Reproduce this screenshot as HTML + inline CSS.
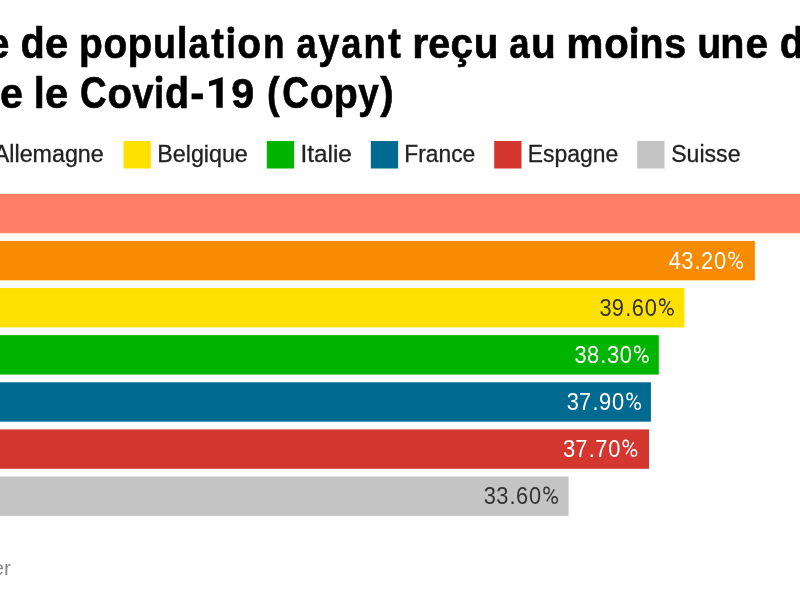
<!DOCTYPE html>
<html><head><meta charset="utf-8"><style>
html,body{margin:0;padding:0;background:#fff;width:800px;height:600px;overflow:hidden}
svg{display:block;will-change:transform;font-family:"Liberation Sans",sans-serif}
</style></head><body>
<svg width="800" height="600" viewBox="0 0 800 600">
<rect x="-10" y="193.80" width="810.00" height="39.4" fill="#ff7f66"/>
<rect x="-10" y="240.92" width="764.90" height="39.4" fill="#f98b00"/>
<rect x="-10" y="288.04" width="694.45" height="39.4" fill="#ffe100"/>
<rect x="-10" y="335.16" width="668.80" height="39.4" fill="#00b400"/>
<rect x="-10" y="382.28" width="660.90" height="39.4" fill="#006a91"/>
<rect x="-10" y="429.40" width="659.00" height="39.4" fill="#d43730"/>
<rect x="-10" y="476.52" width="578.60" height="39.4" fill="#c4c4c4"/>
<rect x="123.5" y="141" width="27.3" height="27.5" fill="#ffe100"/>
<rect x="266.8" y="141" width="27.3" height="27.5" fill="#00b400"/>
<rect x="370.8" y="141" width="27.3" height="27.5" fill="#006a91"/>
<rect x="494.2" y="141" width="27.3" height="27.5" fill="#d43730"/>
<rect x="637.2" y="141" width="27.3" height="27.5" fill="#c4c4c4"/>
<text transform="translate(-6.21,162.10) scale(0.9908,1)" font-size="23.5" font-weight="normal" fill="#222" stroke="#222" stroke-width="0.3">Allemagne</text>
<text transform="translate(157.27,162.10) scale(0.9899,1)" font-size="23.5" font-weight="normal" fill="#222" stroke="#222" stroke-width="0.3">Belgique</text>
<text transform="translate(300.48,162.10) scale(1.0348,1)" font-size="23.5" font-weight="normal" fill="#222" stroke="#222" stroke-width="0.3">Italie</text>
<text transform="translate(404.30,162.10) scale(0.9707,1)" font-size="23.5" font-weight="normal" fill="#222" stroke="#222" stroke-width="0.3">France</text>
<text transform="translate(527.79,162.10) scale(0.9756,1)" font-size="23.5" font-weight="normal" fill="#222" stroke="#222" stroke-width="0.3">Espagne</text>
<text transform="translate(671.16,162.10) scale(0.9831,1)" font-size="23.5" font-weight="normal" fill="#222" stroke="#222" stroke-width="0.3">Suisse</text>
<text transform="translate(-7.51,574.60) scale(0.9908,1)" font-size="21" font-weight="normal" fill="#888">er</text>
<text transform="translate(-12.66,58.40) scale(0.9250,1.0)" font-size="43" font-weight="bold" fill="#000" stroke="#000" stroke-width="0.6">e</text>
<text transform="translate(20.54,58.40) scale(0.9222,1.03)" font-size="43" font-weight="bold" fill="#000" stroke="#000" stroke-width="0.6">d</text>
<text transform="translate(44.98,58.40) scale(0.9729,1.0)" font-size="43" font-weight="bold" fill="#000" stroke="#000" stroke-width="0.6">e</text>
<text transform="translate(79.08,58.40) scale(0.9068,1.0)" font-size="43" font-weight="bold" fill="#000" stroke="#000" stroke-width="0.6">p</text>
<text transform="translate(103.45,58.40) scale(0.9061,1.0)" font-size="43" font-weight="bold" fill="#000" stroke="#000" stroke-width="0.6">o</text>
<text transform="translate(127.50,58.40) scale(0.9441,1.0)" font-size="43" font-weight="bold" fill="#000" stroke="#000" stroke-width="0.6">p</text>
<text transform="translate(152.90,58.40) scale(0.8756,1.0)" font-size="43" font-weight="bold" fill="#000" stroke="#000" stroke-width="0.6">u</text>
<text transform="translate(176.85,58.40) scale(0.9018,1.03)" font-size="43" font-weight="bold" fill="#000" stroke="#000" stroke-width="0.6">l</text>
<text transform="translate(188.43,58.40) scale(0.8563,1.0)" font-size="43" font-weight="bold" fill="#000" stroke="#000" stroke-width="0.6">a</text>
<text transform="translate(211.27,58.40) scale(0.8838,1.0)" font-size="43" font-weight="bold" fill="#000" stroke="#000" stroke-width="0.6">t</text>
<text transform="translate(225.61,58.40) scale(0.8745,1.0)" font-size="43" font-weight="bold" fill="#000" stroke="#000" stroke-width="0.6">ı</text>
<text transform="translate(237.15,58.40) scale(0.9081,1.0)" font-size="43" font-weight="bold" fill="#000" stroke="#000" stroke-width="0.6">o</text>
<text transform="translate(263.04,58.40) scale(0.8190,1.0)" font-size="43" font-weight="bold" fill="#000" stroke="#000" stroke-width="0.6">n</text>
<text transform="translate(296.59,58.40) scale(0.8439,1.0)" font-size="43" font-weight="bold" fill="#000" stroke="#000" stroke-width="0.6">a</text>
<text transform="translate(318.37,58.40) scale(0.8835,1.0)" font-size="43" font-weight="bold" fill="#000" stroke="#000" stroke-width="0.6">y</text>
<text transform="translate(341.19,58.40) scale(0.8459,1.0)" font-size="43" font-weight="bold" fill="#000" stroke="#000" stroke-width="0.6">a</text>
<text transform="translate(363.57,58.40) scale(0.8507,1.0)" font-size="43" font-weight="bold" fill="#000" stroke="#000" stroke-width="0.6">n</text>
<text transform="translate(388.02,58.40) scale(0.9008,1.0)" font-size="43" font-weight="bold" fill="#000" stroke="#000" stroke-width="0.6">t</text>
<text transform="translate(412.20,58.40) scale(0.9617,1.0)" font-size="43" font-weight="bold" fill="#000" stroke="#000" stroke-width="0.6">r</text>
<text transform="translate(428.14,58.40) scale(0.9186,1.0)" font-size="43" font-weight="bold" fill="#000" stroke="#000" stroke-width="0.6">e</text>
<text transform="translate(450.62,58.40) scale(0.9412,1.0)" font-size="43" font-weight="bold" fill="#000" stroke="#000" stroke-width="0.6">ç</text>
<text transform="translate(473.64,58.40) scale(0.9389,1.0)" font-size="43" font-weight="bold" fill="#000" stroke="#000" stroke-width="0.6">u</text>
<text transform="translate(509.28,58.40) scale(0.8501,1.0)" font-size="43" font-weight="bold" fill="#000" stroke="#000" stroke-width="0.6">a</text>
<text transform="translate(530.99,58.40) scale(0.9412,1.0)" font-size="43" font-weight="bold" fill="#000" stroke="#000" stroke-width="0.6">u</text>
<text transform="translate(566.27,58.40) scale(0.9740,1.0)" font-size="43" font-weight="bold" fill="#000" stroke="#000" stroke-width="0.6">m</text>
<text transform="translate(604.23,58.40) scale(0.9330,1.0)" font-size="43" font-weight="bold" fill="#000" stroke="#000" stroke-width="0.6">o</text>
<text transform="translate(628.78,58.40) scale(0.8881,1.0)" font-size="43" font-weight="bold" fill="#000" stroke="#000" stroke-width="0.6">ı</text>
<text transform="translate(639.56,58.40) scale(0.9163,1.0)" font-size="43" font-weight="bold" fill="#000" stroke="#000" stroke-width="0.6">n</text>
<text transform="translate(664.14,58.40) scale(0.9170,1.0)" font-size="43" font-weight="bold" fill="#000" stroke="#000" stroke-width="0.6">s</text>
<text transform="translate(697.23,58.40) scale(0.9140,1.0)" font-size="43" font-weight="bold" fill="#000" stroke="#000" stroke-width="0.6">u</text>
<text transform="translate(720.21,58.40) scale(0.9186,1.0)" font-size="43" font-weight="bold" fill="#000" stroke="#000" stroke-width="0.6">n</text>
<text transform="translate(745.61,58.40) scale(0.9457,1.0)" font-size="43" font-weight="bold" fill="#000" stroke="#000" stroke-width="0.6">e</text>
<text transform="translate(779.83,58.40) scale(0.9250,1.03)" font-size="43" font-weight="bold" fill="#000" stroke="#000" stroke-width="0.6">d</text>
<text transform="translate(-0.00,107.60) scale(0.9615,1.0)" font-size="43" font-weight="bold" fill="#000" stroke="#000" stroke-width="0.6">e</text>
<text transform="translate(33.80,107.60) scale(0.9223,1.03)" font-size="43" font-weight="bold" fill="#000" stroke="#000" stroke-width="0.6">l</text>
<text transform="translate(44.98,107.60) scale(0.9729,1.0)" font-size="43" font-weight="bold" fill="#000" stroke="#000" stroke-width="0.6">e</text>
<text transform="translate(80.11,107.60) scale(0.8562,1.03)" font-size="43" font-weight="bold" fill="#000" stroke="#000" stroke-width="0.6">C</text>
<text transform="translate(107.53,107.60) scale(0.9330,1.0)" font-size="43" font-weight="bold" fill="#000" stroke="#000" stroke-width="0.6">o</text>
<text transform="translate(132.17,107.60) scale(0.8916,1.0)" font-size="43" font-weight="bold" fill="#000" stroke="#000" stroke-width="0.6">v</text>
<text transform="translate(153.98,107.60) scale(0.8471,1.0)" font-size="43" font-weight="bold" fill="#000" stroke="#000" stroke-width="0.6">ı</text>
<text transform="translate(165.04,107.60) scale(0.9178,1.03)" font-size="43" font-weight="bold" fill="#000" stroke="#000" stroke-width="0.6">d</text>
<text transform="translate(190.22,107.60) scale(0.9857,1.0)" font-size="43" font-weight="bold" fill="#000" stroke="#000" stroke-width="0.6">-</text>
<text transform="translate(231.25,107.60) scale(0.9615,1.0)" font-size="43" font-weight="bold" fill="#000" stroke="#000" stroke-width="0.6">9</text>
<text transform="translate(266.99,107.60) scale(0.8791,1.03)" font-size="43" font-weight="bold" fill="#000" stroke="#000" stroke-width="0.6">(</text>
<text transform="translate(282.20,107.60) scale(0.8613,1.03)" font-size="43" font-weight="bold" fill="#000" stroke="#000" stroke-width="0.6">C</text>
<text transform="translate(309.65,107.60) scale(0.9081,1.0)" font-size="43" font-weight="bold" fill="#000" stroke="#000" stroke-width="0.6">o</text>
<text transform="translate(333.81,107.60) scale(0.9178,1.0)" font-size="43" font-weight="bold" fill="#000" stroke="#000" stroke-width="0.6">p</text>
<text transform="translate(358.36,107.60) scale(0.8593,1.0)" font-size="43" font-weight="bold" fill="#000" stroke="#000" stroke-width="0.6">y</text>
<text transform="translate(380.28,107.60) scale(0.9352,1.03)" font-size="43" font-weight="bold" fill="#000" stroke="#000" stroke-width="0.6">)</text>
<circle cx="230.85" cy="29.9" r="3.4"/><circle cx="634.15" cy="30.0" r="3.4"/><circle cx="159.05" cy="79.0" r="3.4"/>
<path d="M209,81.3 L222.7,76.9 L222.7,107.8 L216.3,107.8 L216.3,84.2 L209,86.6 Z" fill="#000"/>
<text transform="translate(714.00,269.00) scale(0.9300,1)" font-size="23.5" fill="#fff">0</text>
<text transform="translate(701.05,269.00) scale(0.9300,1)" font-size="23.5" fill="#fff">2</text>
<text transform="translate(694.60,269.00) scale(0.9300,1)" font-size="23.5" fill="#fff">.</text>
<text transform="translate(681.22,269.00) scale(0.9300,1)" font-size="23.5" fill="#fff">3</text>
<text transform="translate(668.72,269.00) scale(0.9300,1)" font-size="23.5" fill="#fff">4</text>
<g transform="translate(743.25,269.0)" fill="none" stroke="#fff"><ellipse cx="-11.7" cy="-13.55" rx="2.68" ry="3.22" stroke-width="1.4"/><ellipse cx="-3.55" cy="-4.05" rx="2.72" ry="3.22" stroke-width="1.4"/><line x1="-3.9" y1="-14.7" x2="-11.5" y2="-2.6" stroke-width="1.3"/></g>
<text transform="translate(644.75,316.00) scale(0.9300,1)" font-size="23.5" fill="#333">0</text>
<text transform="translate(631.80,316.00) scale(0.9300,1)" font-size="23.5" fill="#333">6</text>
<text transform="translate(625.35,316.00) scale(0.9300,1)" font-size="23.5" fill="#333">.</text>
<text transform="translate(611.80,316.00) scale(0.9300,1)" font-size="23.5" fill="#333">9</text>
<text transform="translate(599.47,316.00) scale(0.9300,1)" font-size="23.5" fill="#333">3</text>
<g transform="translate(674.0,315.75)" fill="none" stroke="#333"><ellipse cx="-11.7" cy="-13.55" rx="2.68" ry="3.22" stroke-width="1.4"/><ellipse cx="-3.55" cy="-4.05" rx="2.72" ry="3.22" stroke-width="1.4"/><line x1="-3.9" y1="-14.7" x2="-11.5" y2="-2.6" stroke-width="1.3"/></g>
<text transform="translate(619.75,363.00) scale(0.9300,1)" font-size="23.5" fill="#fff">0</text>
<text transform="translate(606.97,363.00) scale(0.9300,1)" font-size="23.5" fill="#fff">3</text>
<text transform="translate(600.35,363.00) scale(0.9300,1)" font-size="23.5" fill="#fff">.</text>
<text transform="translate(586.97,363.00) scale(0.9300,1)" font-size="23.5" fill="#fff">8</text>
<text transform="translate(574.47,363.00) scale(0.9300,1)" font-size="23.5" fill="#fff">3</text>
<g transform="translate(649.0,363.0)" fill="none" stroke="#fff"><ellipse cx="-11.7" cy="-13.55" rx="2.68" ry="3.22" stroke-width="1.4"/><ellipse cx="-3.55" cy="-4.05" rx="2.72" ry="3.22" stroke-width="1.4"/><line x1="-3.9" y1="-14.7" x2="-11.5" y2="-2.6" stroke-width="1.3"/></g>
<text transform="translate(612.00,410.00) scale(0.9300,1)" font-size="23.5" fill="#fff">0</text>
<text transform="translate(599.05,410.00) scale(0.9300,1)" font-size="23.5" fill="#fff">9</text>
<text transform="translate(592.60,410.00) scale(0.9300,1)" font-size="23.5" fill="#fff">.</text>
<text transform="translate(579.05,410.00) scale(0.9300,1)" font-size="23.5" fill="#fff">7</text>
<text transform="translate(566.72,410.00) scale(0.9300,1)" font-size="23.5" fill="#fff">3</text>
<g transform="translate(641.25,410.0)" fill="none" stroke="#fff"><ellipse cx="-11.7" cy="-13.55" rx="2.68" ry="3.22" stroke-width="1.4"/><ellipse cx="-3.55" cy="-4.05" rx="2.72" ry="3.22" stroke-width="1.4"/><line x1="-3.9" y1="-14.7" x2="-11.5" y2="-2.6" stroke-width="1.3"/></g>
<text transform="translate(608.25,457.00) scale(0.9300,1)" font-size="23.5" fill="#fff">0</text>
<text transform="translate(595.30,457.00) scale(0.9300,1)" font-size="23.5" fill="#fff">7</text>
<text transform="translate(588.85,457.00) scale(0.9300,1)" font-size="23.5" fill="#fff">.</text>
<text transform="translate(575.30,457.00) scale(0.9300,1)" font-size="23.5" fill="#fff">7</text>
<text transform="translate(562.97,457.00) scale(0.9300,1)" font-size="23.5" fill="#fff">3</text>
<g transform="translate(637.5,457.0)" fill="none" stroke="#fff"><ellipse cx="-11.7" cy="-13.55" rx="2.68" ry="3.22" stroke-width="1.4"/><ellipse cx="-3.55" cy="-4.05" rx="2.72" ry="3.22" stroke-width="1.4"/><line x1="-3.9" y1="-14.7" x2="-11.5" y2="-2.6" stroke-width="1.3"/></g>
<text transform="translate(529.00,504.00) scale(0.9300,1)" font-size="23.5" fill="#333">0</text>
<text transform="translate(516.05,504.00) scale(0.9300,1)" font-size="23.5" fill="#333">6</text>
<text transform="translate(509.60,504.00) scale(0.9300,1)" font-size="23.5" fill="#333">.</text>
<text transform="translate(496.22,504.00) scale(0.9300,1)" font-size="23.5" fill="#333">3</text>
<text transform="translate(483.72,504.00) scale(0.9300,1)" font-size="23.5" fill="#333">3</text>
<g transform="translate(558.25,504.0)" fill="none" stroke="#333"><ellipse cx="-11.7" cy="-13.55" rx="2.68" ry="3.22" stroke-width="1.4"/><ellipse cx="-3.55" cy="-4.05" rx="2.72" ry="3.22" stroke-width="1.4"/><line x1="-3.9" y1="-14.7" x2="-11.5" y2="-2.6" stroke-width="1.3"/></g>
</svg>
</body></html>
